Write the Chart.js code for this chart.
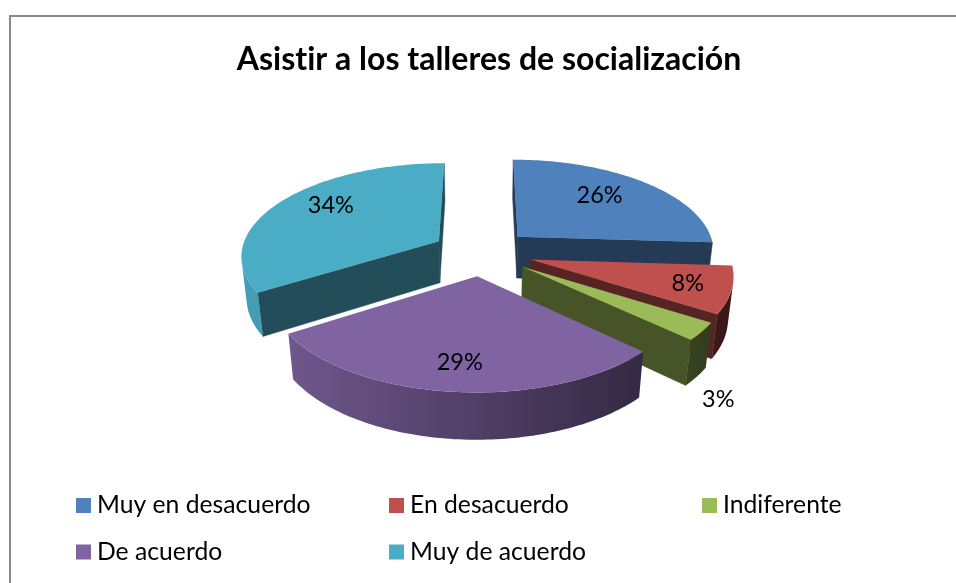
<!DOCTYPE html>
<html lang="en">
<head>
  <meta charset="UTF-8">
  <title>Asistir a los talleres de socialización</title>
  <script src="https://cdn.jsdelivr.net/npm/chart.js"></script>
</head>
<body style="margin:0; background:#fff; overflow:hidden;">

  <!-- FRAME (runs off the right and bottom of the picture) -->
  <div style="position:absolute; left:9px; top:15px; width:960px; height:600px; border:2px solid #8a8a8a;"></div>
  <canvas id="pie" width="956" height="583" style="position:absolute; left:0; top:0;"></canvas>

  <script>
    // DATA
    const titleText = 'Asistir a los talleres de socialización';
    const categories = ['Muy en desacuerdo', 'En desacuerdo', 'Indiferente', 'De acuerdo', 'Muy de acuerdo'];
    const percents = [26, 8, 3, 29, 34];
    const sliceColors = ['#4f81bd', '#c0504d', '#9bbb59', '#8064a2', '#4bacc6'];

    // 3D look: how the flat pie is tilted and extruded
    const fontName = 'Lato, sans-serif';
    const shiftX = -7;
    const tilt = 0.465;
    const persp = 0.00072;
    const depth = 43;
    const sink = 0.022;
    // label spot per slice: share of radius along the mid angle, and how far down the wall
    const labelSpot = [[0.63, -0.14], [0.79, 0], [1.12, 1.3], [0.77, 0.02], [0.67, -0.2]];

    function shade(hex, f) {
      const n = parseInt(hex.slice(1), 16);
      return 'rgb(' + [n >> 16, (n >> 8) & 255, n & 255].map(v => Math.round(v * f)).join(',') + ')';
    }

    function project(arc, px, py, z) {
      const w = 1 - persp * py + sink * z;
      return [arc.x + shiftX + px / w, arc.y + (tilt * py + depth * z) / w];
    }

    function trace(ctx, pts) {
      ctx.beginPath();
      pts.forEach((p, i) => i ? ctx.lineTo(p[0], p[1]) : ctx.moveTo(p[0], p[1]));
      ctx.closePath();
    }

    function areaOf(pts) {
      let sum = 0;
      pts.forEach((p, i) => {
        const q = pts[(i + 1) % pts.length];
        sum += p[0] * q[1] - q[0] * p[1];
      });
      return sum;
    }

    // outline of one slice on the pie plane, walking clockwise from the apex
    function outline(arc) {
      const mid = (arc.startAngle + arc.endAngle) / 2;
      const off = arc.options.offset;
      const ox = Math.cos(mid) * off, oy = Math.sin(mid) * off;
      const pts = [{ x: ox, y: oy }];
      const steps = Math.ceil((arc.endAngle - arc.startAngle) / 0.02);
      for (let i = 0; i <= steps; i++) {
        const a = arc.startAngle + (arc.endAngle - arc.startAngle) * i / steps;
        pts.push({ x: ox + Math.cos(a) * arc.outerRadius, y: oy + Math.sin(a) * arc.outerRadius });
      }
      return pts;
    }

    function wallQuad(arc, p, q) {
      return [project(arc, p.x, p.y, 0), project(arc, q.x, q.y, 0), project(arc, q.x, q.y, 1), project(arc, p.x, p.y, 1)];
    }

    function drawSlice(ctx, arc) {
      const color = arc.options.backgroundColor;
      const pts = outline(arc);
      const last = pts.length - 1;

      // the two cut faces
      ctx.fillStyle = ctx.strokeStyle = shade(color, 0.45);
      ctx.lineWidth = 0.5;
      [wallQuad(arc, pts[0], pts[1]), wallQuad(arc, pts[last], pts[0])].forEach(quad => {
        if (areaOf(quad) >= 0) return;
        trace(ctx, quad);
        ctx.fill();
        ctx.stroke();
      });

      // the rim as one shape, light falling off from left to right across the whole pie
      const rimFill = ctx.createLinearGradient(arc.x - 240, 0, arc.x + 240, 0);
      rimFill.addColorStop(0, shade(color, 0.92));
      rimFill.addColorStop(1, shade(color, 0.3));
      const seen = [];
      for (let i = 1; i < last; i++) {
        if (areaOf(wallQuad(arc, pts[i], pts[i + 1])) < 0) seen.push(pts[i], pts[i + 1]);
      }
      if (seen.length) {
        const upper = seen.map(p => project(arc, p.x, p.y, 0));
        const lower = seen.map(p => project(arc, p.x, p.y, 1)).reverse();
        ctx.fillStyle = rimFill;
        trace(ctx, upper.concat(lower));
        ctx.fill();
      }

      ctx.fillStyle = color;
      trace(ctx, pts.map(p => project(arc, p.x, p.y, 0)));
      ctx.fill();
    }

    const pie3d = {
      id: 'pie3d',
      beforeDraw(chart) {
        chart.ctx.letterSpacing = '0.01px'; // stops the "ti" ligature in Lato
      },
      beforeDatasetsDraw(chart) {
        const ctx = chart.ctx;
        const arcs = chart.getDatasetMeta(0).data;
        const backToFront = arcs.slice().sort((a, b) =>
          Math.sin((a.startAngle + a.endAngle) / 2) * a.options.offset - Math.sin((b.startAngle + b.endAngle) / 2) * b.options.offset);
        ctx.save();
        backToFront.forEach(arc => drawSlice(ctx, arc));

        // percent labels
        ctx.fillStyle = '#000';
        ctx.font = '23.5px ' + fontName;
        ctx.textAlign = 'center';
        ctx.textBaseline = 'middle';
        arcs.forEach((arc, i) => {
          const mid = (arc.startAngle + arc.endAngle) / 2;
          const r = arc.options.offset + arc.outerRadius * labelSpot[i][0];
          const p = project(arc, Math.cos(mid) * r, Math.sin(mid) * r, labelSpot[i][1]);
          ctx.fillText(percents[i] + '%', p[0], p[1]);
        });
        ctx.restore();
        return false;
      }
    };

    // legend in even columns, which the built-in one does not do
    const columnLegend = {
      id: 'columnLegend',
      afterDraw(chart) {
        const ctx = chart.ctx;
        ctx.save();
        ctx.font = '24.7px ' + fontName;
        ctx.textBaseline = 'middle';
        ctx.textAlign = 'left';
        categories.forEach((name, i) => {
          const x = 76 + (i % 3) * 313;
          const y = 505.5 + Math.floor(i / 3) * 46.5;
          ctx.fillStyle = sliceColors[i];
          ctx.fillRect(x, y - 7.5, 15, 15);
          ctx.fillStyle = '#000';
          ctx.fillText(name, x + 21, y);
        });
        ctx.restore();
      }
    };

    new Chart(document.getElementById('pie').getContext('2d'), {
      type: 'pie',
      data: {
        labels: categories,
        datasets: [{
          data: percents,
          backgroundColor: sliceColors,
          borderWidth: 0,
          offset: 50,
          hoverOffset: 0,
          radius: 198
        }]
      },
      options: {
        responsive: false,
        animation: false,
        layout: { padding: { left: 22, bottom: 177 } },
        plugins: {
          legend: { display: false },
          tooltip: { enabled: false },
          title: {
            display: true,
            text: titleText,
            color: '#000',
            font: { family: fontName, size: 32, weight: 'bold' },
            padding: { top: 40, bottom: 20 }
          }
        }
      },
      plugins: [pie3d, columnLegend]
    });
  </script>
</body>
</html>
